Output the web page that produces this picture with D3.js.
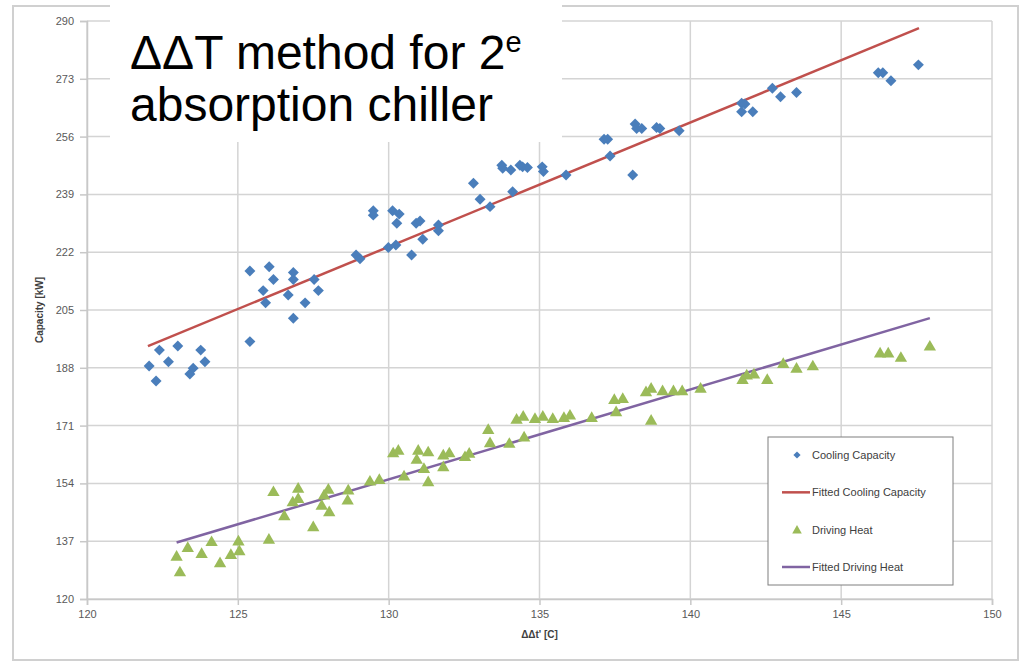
<!DOCTYPE html>
<html>
<head>
<meta charset="utf-8">
<script src="https://cdn.jsdelivr.net/npm/d3@7"></script>
<style>
  body { margin: 0; background: #fff; }
  svg text { font-family: "Liberation Sans", Arial, sans-serif; }
</style>
</head>
<body>
<div id="chart"></div>
<script>
// ---- data ----
var coolX = [122.06,122.29,122.40,122.70,123.01,123.41,123.52,123.77,123.91,125.40,125.40,125.84,125.92,126.04,126.18,126.67,126.84,126.84,126.84,127.23,127.53,127.67,128.92,129.05,129.49,129.49,129.99,130.13,130.24,130.27,130.35,130.76,130.91,131.04,131.13,131.65,131.65,132.81,133.03,133.36,133.75,133.78,134.05,134.11,134.35,134.44,134.60,135.09,135.13,135.88,137.14,137.26,137.34,138.09,138.17,138.22,138.39,138.88,138.99,139.63,141.70,141.81,141.70,142.07,142.72,142.99,143.52,146.23,146.38,146.65,147.56];
var coolY = [188.5,184.1,193.2,189.8,194.4,186.2,187.9,193.2,189.8,216.5,195.7,210.7,207.1,217.7,214.0,209.4,216.0,214.0,202.6,207.1,214.0,210.7,221.2,220.1,234.2,232.9,223.4,234.2,224.1,230.5,233.2,221.2,230.5,231.2,225.8,230.0,228.3,242.3,237.6,235.4,247.6,246.7,246.2,239.8,247.6,247.1,246.9,247.1,245.7,244.7,255.2,255.2,250.3,244.7,259.7,258.4,258.4,258.7,258.4,257.7,265.8,265.6,263.3,263.3,270.2,267.7,269.0,274.8,274.8,272.4,277.1];

var heatX = [122.97,123.08,123.34,123.80,124.13,124.41,124.77,125.02,125.05,126.03,126.18,126.54,126.82,127.00,127.00,127.50,127.78,127.86,128.00,128.03,128.66,128.64,129.38,129.69,130.15,130.32,130.51,130.93,130.98,131.17,131.31,131.31,131.81,131.81,132.01,132.53,132.67,133.30,133.36,134.00,134.24,134.46,134.49,134.85,135.11,135.44,135.81,136.01,136.73,137.48,137.54,137.76,138.53,138.70,138.70,139.08,139.44,139.73,140.34,141.73,141.87,142.11,142.55,143.08,143.52,144.06,146.29,146.56,146.98,147.94];
var heatY = [132.6,128.0,135.2,133.4,136.9,130.7,133.1,137.1,134.2,137.6,151.6,144.5,148.6,152.6,149.6,141.3,147.6,150.6,152.3,145.7,152.1,149.1,154.7,155.2,163.0,163.8,156.2,161.1,163.8,158.4,163.3,154.5,162.4,158.9,163.0,161.9,162.9,169.9,166.0,165.8,172.9,173.8,167.7,173.1,173.8,173.1,173.4,174.1,173.4,178.7,175.1,179.0,181.0,182.0,172.6,181.3,181.3,181.3,182.0,184.6,185.9,186.2,184.6,189.3,187.9,188.6,192.4,192.4,191.1,194.4];

// fitted lines: [x, y] at both ends
var fitCoolX = [122.02, 147.58];
var fitCoolY = [194.4, 287.9];
var fitHeatX = [122.97, 147.94];
var fitHeatY = [136.6, 202.6];

var xTicks = [120, 125, 130, 135, 140, 145, 150];
var yTicks = [120, 137, 154, 171, 188, 205, 222, 239, 256, 273, 290];

var legendLabels = ["Cooling Capacity", "Fitted Cooling Capacity", "Driving Heat", "Fitted Driving Heat"];

var blue = "#4a7ebb", red = "#c0504d", green = "#9bbb59", purple = "#8064a2";

// ---- layout ----
var svgWidth = 1023, svgHeight = 662;
var plot = { left: 87, right: 992, top: 21, bottom: 599 };

var svg = d3.select("#chart").append("svg")
    .attr("width", svgWidth)
    .attr("height", svgHeight);

// outer chart frame
svg.append("rect")
    .attr("x", 13).attr("y", 6)
    .attr("width", 1005).attr("height", 654)
    .attr("fill", "none")
    .attr("stroke", "#d0d0d0")
    .attr("stroke-width", 2);

var x = d3.scaleLinear().domain([120, 150]).range([plot.left, plot.right]);
var y = d3.scaleLinear().domain([120, 290]).range([plot.bottom, plot.top]);

// gridlines
svg.append("g").selectAll("line").data(yTicks).enter().append("line")
    .attr("x1", plot.left).attr("x2", plot.right)
    .attr("y1", d => y(d)).attr("y2", d => y(d))
    .attr("stroke", "#d4d4d4").attr("stroke-width", 1.5);
svg.append("g").selectAll("line").data(xTicks).enter().append("line")
    .attr("x1", d => x(d)).attr("x2", d => x(d))
    .attr("y1", plot.top).attr("y2", plot.bottom)
    .attr("stroke", "#d4d4d4").attr("stroke-width", 1.5);

// axes
var bottomAxis = d3.axisBottom(x).tickValues(xTicks).tickSize(6).tickPadding(5);
var leftAxis = d3.axisLeft(y).tickValues(yTicks).tickSize(7).tickPadding(6);

var gx = svg.append("g")
    .attr("transform", `translate(0,${plot.bottom})`)
    .call(bottomAxis);
var gy = svg.append("g")
    .attr("transform", `translate(${plot.left},0)`)
    .call(leftAxis);

[gx, gy].forEach(function(g) {
    g.select(".domain").attr("stroke", "#c8c8c8").attr("stroke-width", 1.5);
    g.selectAll(".tick line").attr("stroke", "#c8c8c8").attr("stroke-width", 1.5);
    g.selectAll(".tick text")
        .attr("fill", "#595959")
        .style("font-family", "'Liberation Sans', Arial, sans-serif")
        .style("font-size", "11px");
});

// axis titles
svg.append("text")
    .attr("transform", `translate(43,${(plot.top + plot.bottom) / 2}) rotate(-90)`)
    .style("text-anchor", "middle")
    .style("font-size", "10px")
    .attr("font-weight", 700)
    .attr("fill", "#404040")
    .text("Capacity [kW]");

svg.append("text")
    .attr("x", (plot.left + plot.right) / 2)
    .attr("y", 638)
    .style("text-anchor", "middle")
    .style("font-size", "10px")
    .attr("font-weight", 700)
    .attr("fill", "#404040")
    .text("ΔΔt' [C]");

// fitted lines
var fitLine = d3.line().x(d => x(d[0])).y(d => y(d[1]));
svg.append("path")
    .datum(d3.zip(fitCoolX, fitCoolY))
    .attr("d", fitLine)
    .attr("fill", "none").attr("stroke", red).attr("stroke-width", 2.5);
svg.append("path")
    .datum(d3.zip(fitHeatX, fitHeatY))
    .attr("d", fitLine)
    .attr("fill", "none").attr("stroke", purple).attr("stroke-width", 2.5);

// markers
var diamond = d3.symbol().type(d3.symbolSquare).size(60);
var triangle = d3.symbol().type(d3.symbolTriangle).size(66);

svg.append("g").selectAll("path")
    .data(d3.zip(heatX, heatY))
    .enter().append("path")
    .attr("d", triangle)
    .attr("transform", d => `translate(${x(d[0])},${y(d[1]) + 1})`)
    .attr("fill", green);

svg.append("g").selectAll("path")
    .data(d3.zip(coolX, coolY))
    .enter().append("path")
    .attr("d", diamond)
    .attr("transform", d => `translate(${x(d[0])},${y(d[1])}) rotate(45)`)
    .attr("fill", blue);

// legend
var legend = svg.append("g");
legend.append("rect")
    .attr("x", 768).attr("y", 437)
    .attr("width", 185).attr("height", 148)
    .attr("fill", "#fff")
    .attr("stroke", "#7f7f7f").attr("stroke-width", 1);

var legendY = d3.scalePoint().domain(legendLabels).range([455, 567]);

legend.selectAll("text").data(legendLabels).enter().append("text")
    .attr("x", 812)
    .attr("y", d => legendY(d) + 4)
    .style("font-size", "11px")
    .attr("fill", "#404040")
    .text(d => d);

legend.append("path")
    .attr("d", d3.symbol().type(d3.symbolSquare).size(26))
    .attr("transform", `translate(797,${legendY(legendLabels[0])}) rotate(45)`)
    .attr("fill", blue);
legend.append("line")
    .attr("x1", 782).attr("x2", 810)
    .attr("y1", legendY(legendLabels[1])).attr("y2", legendY(legendLabels[1]))
    .attr("stroke", red).attr("stroke-width", 2.5);
legend.append("path")
    .attr("d", d3.symbol().type(d3.symbolTriangle).size(40))
    .attr("transform", `translate(797,${legendY(legendLabels[2]) + 1})`)
    .attr("fill", green);
legend.append("line")
    .attr("x1", 782).attr("x2", 810)
    .attr("y1", legendY(legendLabels[3])).attr("y2", legendY(legendLabels[3]))
    .attr("stroke", purple).attr("stroke-width", 2.5);

// title box covering top-left of the chart
svg.append("rect")
    .attr("x", 110).attr("y", 0)
    .attr("width", 452).attr("height", 142)
    .attr("fill", "#fff");

var title = svg.append("text")
    .attr("x", 130).attr("y", 69)
    .style("font-size", "48px")
    .attr("fill", "#000");
title.append("tspan").text("ΔΔT method for 2");
title.append("tspan")
    .attr("dy", -17)
    .style("font-size", "29px")
    .text("e");

svg.append("text")
    .attr("x", 130).attr("y", 121)
    .style("font-size", "48px")
    .attr("fill", "#000")
    .text("absorption chiller");
</script>
</body>
</html>
